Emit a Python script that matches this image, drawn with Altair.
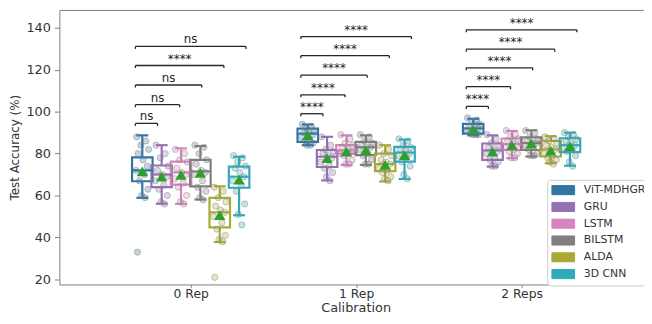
import altair as alt
import pandas as pd

models = ["ViT-MDHGR", "GRU", "LSTM", "BILSTM", "ALDA", "3D CNN"]
groups = ["0 Rep", "1 Rep", "2 Reps"]
colors = ["#3274a1", "#9472b2", "#d584bd", "#7f7f7f", "#a9aa35", "#2eabb8"]

# Box statistics: one list per calibration group, values in model order
whisker_lo = [[58.9, 56.1, 56.0, 58.1, 37.8, 50.6],
              [84.0, 67.2, 74.6, 74.6, 66.7, 67.9],
              [88.7, 73.8, 77.8, 78.6, 75.4, 74.2]]
q1 = [[66.8, 64.0, 65.2, 64.4, 44.8, 63.7],
      [85.6, 73.6, 80.0, 79.3, 71.6, 76.2],
      [89.5, 77.0, 81.7, 81.7, 78.6, 80.7]]
median = [[72.0, 70.0, 71.0, 71.5, 52.0, 69.0],
          [89.5, 78.5, 81.5, 83.0, 75.0, 80.5],
          [92.0, 81.5, 84.5, 85.0, 82.0, 84.0]]
q3 = [[78.2, 74.3, 76.2, 77.0, 58.9, 73.8],
      [91.9, 81.7, 84.0, 85.6, 80.0, 83.2],
      [94.2, 84.8, 87.2, 87.7, 86.0, 87.3]]
whisker_hi = [[88.7, 84.0, 82.5, 83.6, 64.4, 78.5],
              [93.9, 88.0, 88.7, 88.7, 84.0, 86.7],
              [96.6, 88.7, 90.8, 91.1, 88.3, 90.0]]
means = [[71.5, 69.0, 69.9, 70.8, 50.6, 67.6],
         [88.7, 77.8, 80.9, 81.7, 74.6, 79.3],
         [91.4, 80.9, 84.0, 84.8, 81.4, 83.6]]

# Individual subject accuracies (strip points)
points_rep0 = [
    [88, 86, 84, 82, 80, 77, 74, 72, 70, 67, 63, 60, 59, 33],
    [84, 80, 78, 74, 72, 70, 69, 67, 65, 63, 60, 57, 56],
    [82, 80, 77, 76, 73, 71, 70, 68, 66, 64, 60, 57, 56],
    [84, 83, 80, 77, 75, 72, 71, 70, 67, 64, 62, 59, 58],
    [64, 62, 59, 57, 55, 53, 52, 50, 47, 44, 41, 39, 38, 21],
    [79, 78, 76, 74, 73, 71, 69, 67, 65, 62, 56, 51, 46],
]
points_rep1 = [
    [94, 93, 92, 91, 90, 90, 89, 88, 87, 86, 85, 84, 84],
    [88, 84, 82, 81, 80, 79, 78, 76, 74, 73, 71, 69, 67],
    [89, 87, 85, 84, 83, 82, 81, 80, 80, 79, 77, 75, 75],
    [89, 88, 86, 85, 84, 83, 83, 82, 80, 79, 77, 75, 75],
    [84, 82, 80, 79, 77, 76, 75, 73, 72, 71, 69, 68, 67],
    [87, 86, 84, 83, 82, 81, 80, 79, 78, 76, 74, 70, 68],
]
points_rep2 = [
    [97, 96, 95, 94, 93, 92, 92, 91, 90, 90, 89, 89, 89],
    [89, 87, 85, 84, 83, 82, 81, 80, 78, 77, 76, 74, 74],
    [91, 89, 88, 87, 86, 85, 84, 83, 82, 81, 80, 78, 78],
    [91, 90, 88, 87, 86, 85, 85, 84, 83, 82, 80, 79, 79],
    [88, 87, 86, 85, 84, 83, 82, 80, 79, 78, 77, 76, 75],
    [90, 89, 88, 87, 86, 85, 84, 83, 82, 81, 79, 76, 74],
]
jitter = [-0.8, 0.5, -0.2, 0.9, -0.6, 0.1, 0.7, -0.9, 0.3, -0.4, 0.8, -0.1, 0.4, -0.7]

# Significance brackets: ViT-MDHGR vs each other model
bracket_height = [[94.4, 103.3, 112.7, 122.0, 131.1],
                  [99.0, 108.0, 117.4, 126.7, 135.8],
                  [102.5, 111.9, 120.9, 129.8, 139.0]]
bracket_label = [["ns", "ns", "ns", "****", "ns"],
                 ["****", "****", "****", "****", "****"],
                 ["****", "****", "****", "****", "****"]]

# ---- tables ----
stat_rows = []
for gi in range(3):
    for mi, m in enumerate(models):
        stat_rows.append(dict(group=groups[gi], model=m, gi=gi, mi=mi,
                              lo=whisker_lo[gi][mi], q1=q1[gi][mi], med=median[gi][mi],
                              q3=q3[gi][mi], hi=whisker_hi[gi][mi], mean=means[gi][mi]))
stats = pd.DataFrame(stat_rows)

pt_rows = []
for gi, pts in enumerate([points_rep0, points_rep1, points_rep2]):
    for mi, vals in enumerate(pts):
        for k, v in enumerate(vals):
            pt_rows.append(dict(model=models[mi], gi=gi, mi=mi, value=v, jit=jitter[k % len(jitter)]))
points = pd.DataFrame(pt_rows)

br_rows = []
for gi in range(3):
    for k in range(5):
        br_rows.append(dict(gi=gi, mi=k + 1, h=bracket_height[gi][k], label=bracket_label[gi][k]))
brackets = pd.DataFrame(br_rows)

DODGE = 0.117
HALF = 0.062
CAP = 0.036
BR = 0.1337

xscale = alt.Scale(domain=[-0.794, 2.74], nice=False, zero=False)
yscale = alt.Scale(domain=[17.6, 148.5], nice=False, zero=False)
cscale = alt.Scale(domain=models, range=colors)

stat_base = alt.Chart(stats).transform_calculate(
    xc=f"datum.gi + (datum.mi - 2.5) * {DODGE}",
).transform_calculate(
    xl=f"datum.xc - {HALF}", xr=f"datum.xc + {HALF}",
    cl=f"datum.xc - {CAP}", cr=f"datum.xc + {CAP}",
)

x_axis = alt.Axis(values=[0, 1, 2], labelExpr="['0 Rep','1 Rep','2 Reps'][datum.value]",
                  title="Calibration", labelFontSize=12.5, titleFontSize=13, tickSize=3,
                  labelPadding=0, titleX=300, titleY=27, titleBaseline="alphabetic",
                  grid=False)
y_axis = alt.Axis(values=[20, 40, 60, 80, 100, 120, 140], title="Test Accuracy (%)",
                  labelFontSize=13, titleFontSize=12, tickSize=5, labelPadding=4,
                  titlePadding=5, grid=False)

legend = alt.Legend(
    title=None, orient="none", legendX=494, legendY=172,
    symbolType="M-1,-0.8H3V0.8H-1Z", symbolSize=132,
    symbolOpacity=1, symbolStrokeColor="#3d3d3d", symbolStrokeWidth=1,
    labelFontSize=11, labelOffset=20, rowPadding=2, padding=4,
    strokeColor="#cccccc", fillColor="white", cornerRadius=3,
)

boxes = stat_base.mark_rect(fillOpacity=0, strokeWidth=2.2).encode(
    x=alt.X("xl:Q", scale=xscale, axis=x_axis),
    x2="xr:Q",
    y=alt.Y("q1:Q", scale=yscale, axis=y_axis),
    y2="q3:Q",
    fill=alt.Fill("model:N", scale=cscale, legend=legend, sort=models),
    stroke=alt.Stroke("model:N", scale=cscale, legend=None, sort=models),
)

whisk_lo = stat_base.mark_rule(strokeWidth=2.2).encode(
    x=alt.X("xc:Q", scale=xscale, axis=None), y=alt.Y("lo:Q", scale=yscale, axis=None), y2="q1:Q",
    color=alt.Color("model:N", scale=cscale, legend=None))
whisk_hi = stat_base.mark_rule(strokeWidth=2.2).encode(
    x=alt.X("xc:Q", scale=xscale, axis=None), y=alt.Y("q3:Q", scale=yscale, axis=None), y2="hi:Q",
    color=alt.Color("model:N", scale=cscale, legend=None))
cap_lo = stat_base.mark_rule(strokeWidth=2.2).encode(
    x=alt.X("cl:Q", scale=xscale, axis=None), x2="cr:Q", y=alt.Y("lo:Q", scale=yscale, axis=None),
    color=alt.Color("model:N", scale=cscale, legend=None))
cap_hi = stat_base.mark_rule(strokeWidth=2.2).encode(
    x=alt.X("cl:Q", scale=xscale, axis=None), x2="cr:Q", y=alt.Y("hi:Q", scale=yscale, axis=None),
    color=alt.Color("model:N", scale=cscale, legend=None))
med_line = stat_base.mark_rule(strokeWidth=2.2).encode(
    x=alt.X("xl:Q", scale=xscale, axis=None), x2="xr:Q", y=alt.Y("med:Q", scale=yscale, axis=None),
    color=alt.Color("model:N", scale=cscale, legend=None))

strip = alt.Chart(points).transform_calculate(
    xp=f"datum.gi + (datum.mi - 2.5) * {DODGE} + datum.jit * 0.042"
).mark_point(filled=True, size=40, fillOpacity=0.3, stroke="#808080", strokeOpacity=0.45,
             strokeWidth=1).encode(
    x=alt.X("xp:Q", scale=xscale, axis=None),
    y=alt.Y("value:Q", scale=yscale, axis=None),
    fill=alt.Fill("model:N", scale=cscale, legend=None),
)

mean_pts = stat_base.mark_point(shape="triangle-up", filled=True, size=130, color="#2ca02c",
                                opacity=1).encode(
    x=alt.X("xc:Q", scale=xscale, axis=None), y=alt.Y("mean:Q", scale=yscale, axis=None))

br_base = alt.Chart(brackets).transform_calculate(
    x1=f"datum.gi - 2.5 * {BR}", x2=f"datum.gi + (datum.mi - 2.5) * {BR}",
).transform_calculate(
    xm="(datum.x1 + datum.x2) / 2", ht="datum.h - 1.2",
)
top_axis = alt.Axis(orient="top", labels=False, ticks=False, title=None, domain=True,
                    grid=False, domainColor="#808080")
br_h = br_base.mark_rule(color="#262626", strokeWidth=1.3).encode(
    x=alt.X("x1:Q", scale=xscale, axis=top_axis), x2="x2:Q",
    y=alt.Y("h:Q", scale=yscale, axis=None))
br_l = br_base.mark_rule(color="#262626", strokeWidth=1.3).encode(
    x=alt.X("x1:Q", scale=xscale, axis=None), y=alt.Y("ht:Q", scale=yscale, axis=None), y2="h:Q")
br_r = br_base.mark_rule(color="#262626", strokeWidth=1.3).encode(
    x=alt.X("x2:Q", scale=xscale, axis=None), y=alt.Y("ht:Q", scale=yscale, axis=None), y2="h:Q")
br_t = br_base.mark_text(fontSize=12, font="DejaVu Sans", color="#262626",
                         baseline="alphabetic", dy=-3).encode(
    x=alt.X("xm:Q", scale=xscale, axis=None), y=alt.Y("h:Q", scale=yscale, axis=None),
    text="label:N")

chart = alt.layer(
    boxes, whisk_lo, whisk_hi, cap_lo, cap_hi, med_line, strip, mean_pts,
    br_h, br_l, br_r, br_t,
).resolve_axis(x="independent", y="independent").resolve_scale(x="shared", y="shared").properties(
    width=592, height=278,
    autosize=alt.AutoSizeParams(type="none"),
    padding={"left": 52, "top": 0, "right": 0, "bottom": 30},
).configure_view(stroke=None).configure_axis(
    domainColor="#808080", tickColor="#808080", labelColor="#333333", titleColor="#333333",
    labelFont="DejaVu Sans", titleFont="DejaVu Sans", titleFontWeight="normal",
).configure_legend(labelFont="DejaVu Sans", labelColor="#333333")

chart.save("out.html", embed_options={"renderer": "svg", "actions": False})
